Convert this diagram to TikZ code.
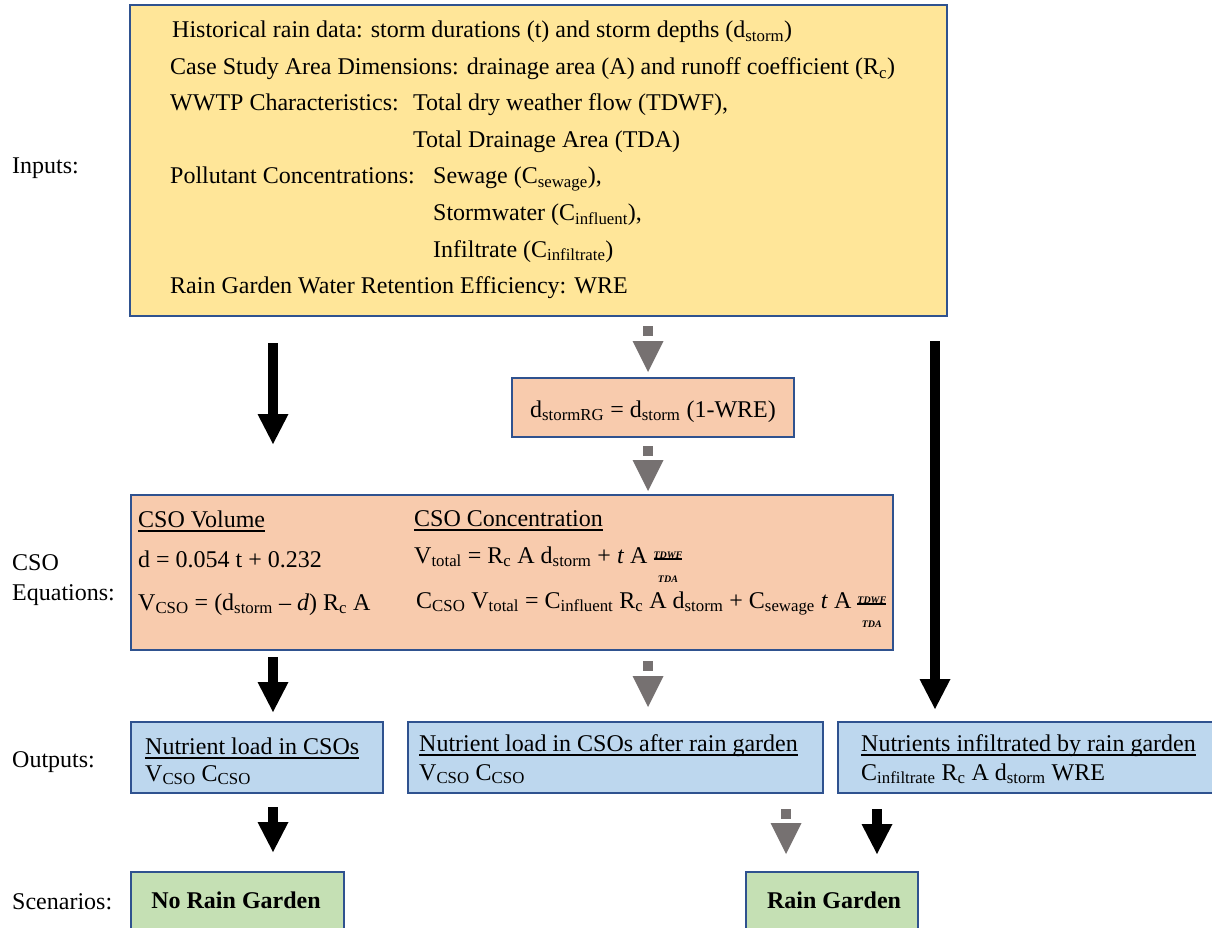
\documentclass[tikz,border=0pt]{standalone}
\usepackage{fontspec}
\setmainfont{Liberation Serif}
\usetikzlibrary{arrows.meta,positioning}

\definecolor{boxline}{RGB}{47,82,143}
\definecolor{inyellow}{RGB}{255,230,153}
\definecolor{eqpeach}{RGB}{248,203,173}
\definecolor{outblue}{RGB}{189,215,238}
\definecolor{scgreen}{RGB}{197,224,180}
\definecolor{arrgray}{RGB}{118,113,113}

\newcommand{\sub}[1]{\textsubscript{#1}}
\newcommand{\uln}[2][-5pt]{\setbox0\hbox{#2}\rlap{\rule[#1]{\wd0}{1.6pt}}\box0}
\newcommand{\ratio}{\raisebox{5pt}{\renewcommand{\arraystretch}{0.85}\begin{tabular}[t]{@{}c@{}}\uln[-2pt]{\fontsize{10}{10}\selectfont\bfseries\itshape TDWF}\\ \fontsize{10}{10}\selectfont\bfseries\itshape TDA\end{tabular}}}

\begin{document}
\begin{tikzpicture}[x=1pt,y=-1pt,
    font=\fontsize{24}{29}\selectfont,
    box/.style={draw=boxline, line width=2pt, inner sep=0pt},
    txt/.style={anchor=base west, inner sep=0pt},
    bigarrow/.style={line width=10pt, -{Triangle[width=31pt,length=30pt,line width=0pt]}},
    dasharrow/.style={arrgray, line width=10pt, dash pattern=on 10pt off 12pt, -{Triangle[width=31pt,length=31pt,line width=0pt]}}]
\path[use as bounding box, fill=white] (0,0) rectangle (1212,928);

% boxes
\node[box, fill=inyellow, minimum width=817pt, minimum height=311pt] (inputs) at (538.5,160.5) {};
\node[box, fill=eqpeach, minimum width=282pt, minimum height=59pt] (rg) at (653,407.5) {};
\node[box, fill=eqpeach, minimum width=762pt, minimum height=155pt] (cso) at (512,572.5) {};
\node[box, fill=outblue, minimum width=252pt, minimum height=71pt] (out1) at (257,757.5) {};
\node[box, fill=outblue, minimum width=415pt, minimum height=71pt] (out2) at (615.5,757.5) {};
\node[box, fill=outblue, minimum width=392pt, minimum height=71pt] (out3) at (1034,757.5) {};
\node[box, fill=scgreen, minimum width=213pt, minimum height=73pt] (scen1) at (237.5,908.5) {};
\node[box, fill=scgreen, minimum width=172pt, minimum height=73pt] (scen2) at (832,908.5) {};

% row labels
\node[txt] (lin) at (12,174) {Inputs:};
\node[txt] (lcso) at (12,570) {CSO};
\node[txt] (leq) at (12,600) {Equations:};
\node[txt] (lout) at (12,767) {Outputs:};
\node[txt] (lsc) at (12,909) {Scenarios:};

% inputs
\node[txt] (in1) at (172,38) {Historical rain data: storm durations (t) and storm depths (d\sub{storm})};
\node[txt] (in2) at (170,74.5) {Case Study Area Dimensions: drainage area (A) and runoff coefficient (R\sub{c})};
\node[txt] (in3) at (170,111) {WWTP Characteristics:};
\node[txt] (in3b) at (413,111) {Total dry weather flow (TDWF),};
\node[txt] (in4) at (413,147.5) {Total Drainage Area (TDA)};
\node[txt] (in5) at (170,184) {Pollutant Concentrations:};
\node[txt] (in5b) at (433,184) {Sewage (C\sub{sewage}),};
\node[txt] (in6) at (433,220.5) {Stormwater (C\sub{influent}),};
\node[txt] (in7) at (433,257) {Infiltrate (C\sub{infiltrate})};
\node[txt] (in8) at (170,293.5) {Rain Garden Water Retention Efficiency: WRE};

\node[anchor=base, inner sep=0pt] (rgtxt) at (653,417) {d\sub{stormRG} = d\sub{storm} (1-WRE)};

% equations
\node[txt] (eq1) at (138,527) {\uln{CSO Volume}};
\node[txt] (eq2) at (414,526) {\uln{CSO Concentration}};
\node[txt] (eq3) at (138,567) {d = 0.054 t + 0.232};
\node[txt] (eq4) at (414,563) {V\sub{total} = R\sub{c} A d\sub{storm} + \textit{t} A \ratio};
\node[txt] (eq5) at (138,610) {V\sub{CSO} = (d\sub{storm} – \textit{d}) R\sub{c} A};
\node[txt] (eq6) at (416,608) {C\sub{CSO} V\sub{total} = C\sub{influent} R\sub{c} A d\sub{storm} + C\sub{sewage} \textit{t} A \ratio};

% outputs
\node[txt] (o1a) at (145,754) {\uln{Nutrient load in CSOs}};
\node[txt] (o1b) at (145,781) {V\sub{CSO} C\sub{CSO}};
\node[txt] (o2a) at (419,751) {\uln{Nutrient load in CSOs after rain garden}};
\node[txt] (o2b) at (419,780) {V\sub{CSO} C\sub{CSO}};
\node[txt] (o3a) at (861,751) {\uln{Nutrients infiltrated by rain garden}};
\node[txt] (o3b) at (861,780) {C\sub{infiltrate} R\sub{c} A d\sub{storm} WRE};

% scenarios
\node[anchor=base, inner sep=0pt] (s1) at (236,908) {\textbf{No Rain Garden}};
\node[anchor=base, inner sep=0pt] (s2) at (834,908) {\textbf{Rain Garden}};

% arrows
\coordinate (colL) at (273,0);
\coordinate (colM) at (648,0);
\coordinate (colR) at (935,0);
\coordinate (colG) at (786,0);
\coordinate (colK) at (877,0);
\draw[bigarrow, shorten <=26pt, shorten >=50pt] (inputs.south -| colL) -- (cso.north -| colL);
\draw[dasharrow, shorten <=9pt, shorten >=5pt] (inputs.south -| colM) -- (rg.north -| colM);
\draw[dasharrow, shorten <=8pt, shorten >=3pt] (rg.south -| colM) -- (cso.north -| colM);
\draw[bigarrow, shorten <=24pt, shorten >=12pt] (inputs.south -| colR) -- (out3.north -| colR);
\draw[bigarrow, shorten <=6pt, shorten >=9pt] (cso.south -| colL) -- (out1.north -| colL);
\draw[dasharrow, shorten <=10pt, shorten >=14pt] (cso.south -| colM) -- (out2.north -| colM);
\draw[bigarrow, shorten <=13pt, shorten >=19pt] (out1.south -| colL) -- (scen1.north -| colL);
\draw[dasharrow, shorten <=15pt, shorten >=17pt] (out2.south -| colG) -- (scen2.north -| colG);
\draw[bigarrow, shorten <=15pt, shorten >=17pt] (out3.south -| colK) -- (scen2.north -| colK);
\end{tikzpicture}
\end{document}
